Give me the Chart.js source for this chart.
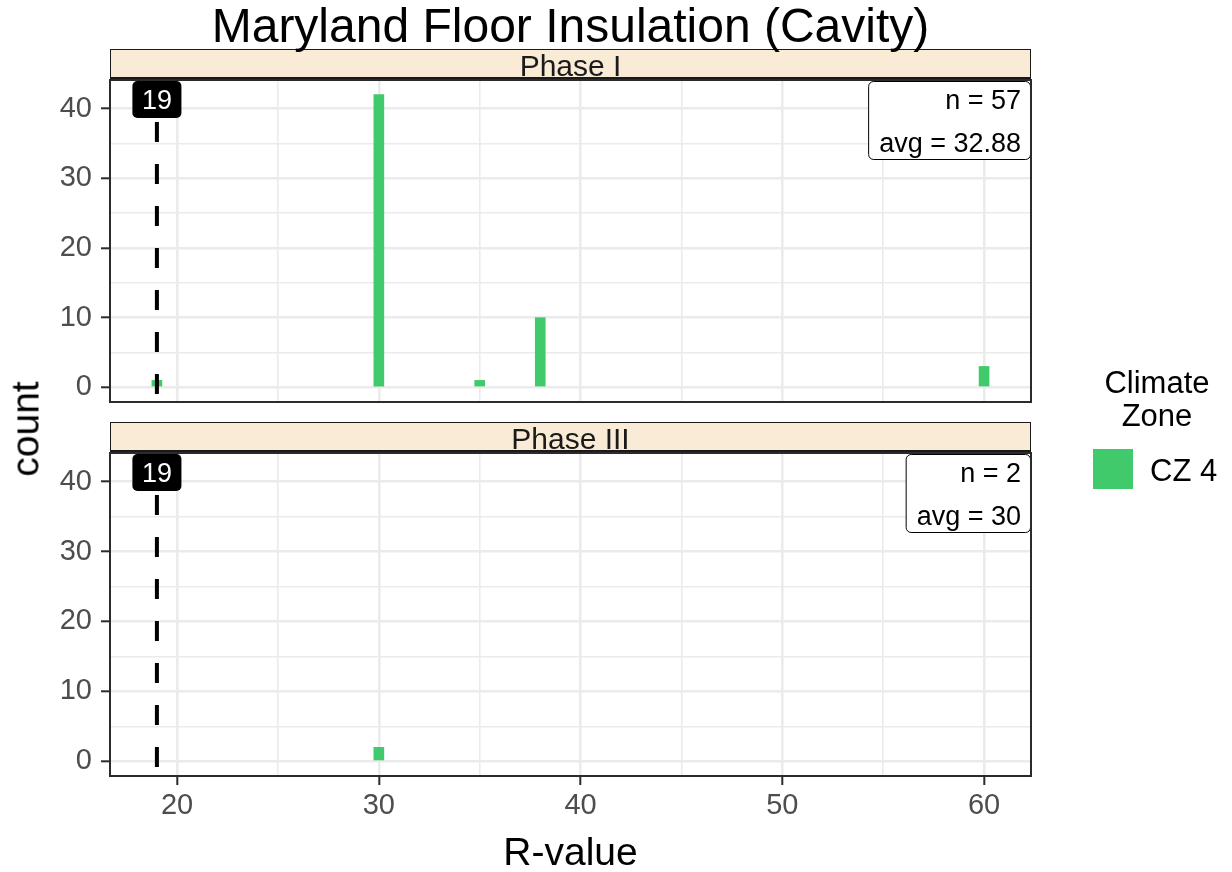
<!DOCTYPE html>
<html>
<head>
<meta charset="utf-8">
<script src="https://cdn.jsdelivr.net/npm/chart.js@4.4.1/dist/chart.umd.min.js"></script>
<style>
  html, body { margin: 0; padding: 0; background: #ffffff; }
  #wrap { position: relative; width: 1232px; height: 872px; overflow: hidden; background: #fff;
          font-family: "Liberation Sans", Arial, Helvetica, sans-serif; }
  canvas { position: absolute; left: 0; }
  .t { position: absolute; white-space: nowrap; line-height: 1; z-index: 3; }
  .strip { position: absolute; box-sizing: border-box; background: #FAEBD7; border: 1.6px solid #1a1a1a; border-bottom-width: 2px; z-index: 2; }
</style>
</head>
<body>
<div id="wrap">
  <canvas id="c1" width="1232" height="400" style="top:50px;width:1232px;height:400px"></canvas>
  <canvas id="c2" width="1232" height="449" style="top:423px;width:1232px;height:449px"></canvas>
</div>
<script>
// ---------------- data ----------------
const chartTitle = 'Maryland Floor Insulation (Cavity)';
const panelNames = ['Phase I', 'Phase III'];
const phase1R = [19, 30, 35, 38, 60];
const phase1Count = [1, 42, 1, 10, 3];
const phase3R = [30];
const phase3Count = [2];
const codeRValue = 19;               // dashed reference line
const xTickValues = [20, 25, 30, 35, 40, 45, 50, 55, 60];
const xTickLabels = ['20', '', '30', '', '40', '', '50', '', '60'];
const yTickValues = [0, 5, 10, 15, 20, 25, 30, 35, 40];
const yTickLabels = ['0', '', '10', '', '20', '', '30', '', '40'];
const xLimits = [16.675, 62.325];
const yLimits = [-2.1, 44.1];
const legendTitle = ['Climate', 'Zone'];
const legendLabel = 'CZ 4';
const xTitle = 'R-value';
const yTitle = 'count';

// ---------------- styling ----------------
const FONT = '"Liberation Sans", Arial, Helvetica, sans-serif';
const BAR = '#40CA6B';
const GRID = '#EBEBEB';
const DARK = '#2b2b2b';

const wrap = document.getElementById('wrap');
function txt(s, o) {
  const d = document.createElement('div');
  d.className = 't';
  d.textContent = s;
  d.style.fontSize = o.size + 'px';
  d.style.color = o.color || '#000';
  if (o.rotate) {
    d.style.left = o.x + 'px';
    d.style.top = o.y + 'px';
    d.style.transform = 'translate(-50%,-50%) rotate(-90deg)';
  } else {
    d.style.top = (o.baseline - 0.8465 * o.size) + 'px';
    d.style.left = o.x + 'px';
    if (o.align === 'center') d.style.transform = 'translateX(-50%)';
  }
  wrap.appendChild(d);
  return d;
}

function fmt(v) { return String(Number(v.toFixed(2))); }

function decorPlugin(rVals, counts) {
  const n = counts.reduce((a, b) => a + b, 0);
  const avg = rVals.reduce((a, r, i) => a + r * counts[i], 0) / n;
  const lines = ['n = ' + n, 'avg = ' + fmt(avg)];
  return {
    id: 'decor',
    afterDatasetsDraw(chart) {
      const ctx = chart.ctx, a = chart.chartArea, xs = chart.scales.x;
      const px = xs.getPixelForValue(codeRValue);
      ctx.save();
      // dashed reference line
      ctx.beginPath();
      ctx.rect(a.left, a.top, a.right - a.left, a.bottom - a.top);
      ctx.clip();
      ctx.strokeStyle = '#000';
      ctx.lineWidth = 4;
      ctx.setLineDash([20, 22]);
      ctx.beginPath();
      ctx.moveTo(px, a.top);
      ctx.lineTo(px, a.bottom);
      ctx.stroke();
      ctx.setLineDash([]);
      ctx.font = '27px ' + FONT;
      // "19" label
      const lw = ctx.measureText(String(codeRValue)).width + 19;
      ctx.fillStyle = '#000';
      ctx.beginPath();
      ctx.roundRect(px - lw / 2, a.top + 1, lw, 37, 5);
      ctx.fill();
      ctx.fillStyle = '#fff';
      ctx.textAlign = 'center';
      ctx.textBaseline = 'alphabetic';
      ctx.fillText(String(codeRValue), px, a.top + 29);
      // n / avg box
      const tw = Math.max(...lines.map(l => ctx.measureText(l).width));
      const bw = tw + 20, bh = 78;
      const bx = a.right - 1 - bw, by = a.top + 1;
      ctx.fillStyle = '#fff';
      ctx.strokeStyle = '#000';
      ctx.lineWidth = 1;
      ctx.beginPath();
      ctx.roundRect(bx + 0.5, by + 0.5, bw, bh, 5);
      ctx.fill();
      ctx.stroke();
      ctx.fillStyle = '#000';
      ctx.textAlign = 'right';
      ctx.fillText(lines[0], a.right - 10, by + 28);
      ctx.fillText(lines[1], a.right - 10, by + 71);
      ctx.restore();
      // panel border
      ctx.save();
      ctx.strokeStyle = DARK;
      ctx.lineWidth = 2;
      ctx.strokeRect(a.left, a.top, a.right - a.left, a.bottom - a.top);
      ctx.restore();
    }
  };
}

function makeChart(id, rVals, counts, showX, xAxisHeight, padBottom) {
  const data = rVals.map((r, i) => ({ x: r, y: counts[i] }));
  return new Chart(document.getElementById(id), {
    type: 'bar',
    data: { datasets: [{ data, backgroundColor: BAR, borderWidth: 0, barThickness: 10 }] },
    plugins: [decorPlugin(rVals, counts)],
    options: {
      responsive: false,
      animation: false,
      devicePixelRatio: 1,
      layout: { padding: { top: 30, left: 0, right: 201, bottom: padBottom } },
      plugins: { legend: { display: false }, tooltip: { enabled: false } },
      scales: {
        x: {
          type: 'linear',
          offset: false,
          min: xLimits[0], max: xLimits[1],
          afterBuildTicks(s) { s.ticks = xTickValues.map(v => ({ value: v })); },
          afterFit(s) { s.height = xAxisHeight; },
          border: { display: false },
          grid: {
            offset: false,
            color: GRID,
            lineWidth: c => (c.tick && c.tick.value % 10 === 0) ? 2.6 : 1.6,
            drawTicks: showX,
            tickLength: 9,
            tickWidth: 2,
            tickColor: c => (c.tick && c.tick.value % 10 === 0) ? DARK : 'rgba(0,0,0,0)'
          },
          ticks: {
            display: showX,
            autoSkip: false,
            maxRotation: 0,
            padding: 4,
            color: '#4D4D4D',
            font: { family: FONT, size: 29 },
            callback: (v) => xTickLabels[xTickValues.indexOf(v)] ?? ''
          }
        },
        y: {
          type: 'linear',
          min: yLimits[0], max: yLimits[1],
          afterBuildTicks(s) { s.ticks = yTickValues.map(v => ({ value: v })); },
          afterFit(s) { s.width = 110; },
          border: { display: false },
          grid: {
            color: GRID,
            lineWidth: c => (c.tick && c.tick.value % 10 === 0) ? 2.6 : 1.6,
            drawTicks: true,
            tickLength: 9,
            tickWidth: 2,
            tickColor: c => (c.tick && c.tick.value % 10 === 0) ? DARK : 'rgba(0,0,0,0)'
          },
          ticks: {
            autoSkip: false,
            padding: 9,
            color: '#4D4D4D',
            font: { family: FONT, size: 29 },
            callback: (v) => yTickLabels[yTickValues.indexOf(v)] ?? ''
          }
        }
      }
    }
  });
}

makeChart('c1', phase1R, phase1Count, false, 0, 48);
makeChart('c2', phase3R, phase3Count, true, 96, 0);

// strips
function strip(top, label) {
  const d = document.createElement('div');
  d.className = 'strip';
  d.style.left = '110px';
  d.style.top = top + 'px';
  d.style.width = '921px';
  d.style.height = '30px';
  wrap.appendChild(d);
  txt(label, { x: 570.5, baseline: top + 27, size: 30, align: 'center', color: '#1A1A1A' });
}
strip(49, panelNames[0]);
strip(422, panelNames[1]);

// titles
txt(chartTitle, { x: 570.5, baseline: 43, size: 48, align: 'center' });
txt(xTitle, { x: 570.5, baseline: 865, size: 39, align: 'center' });
txt(yTitle, { x: 24.5, y: 429, size: 39, rotate: true });

// legend
txt(legendTitle[0], { x: 1157, baseline: 393, size: 31, align: 'center' });
txt(legendTitle[1], { x: 1157, baseline: 426, size: 31, align: 'center' });
const key = document.createElement('div');
key.style.cssText = 'position:absolute;left:1093px;top:449px;width:40px;height:40px;background:' + BAR + ';';
wrap.appendChild(key);
txt(legendLabel, { x: 1150, baseline: 481, size: 31 });
</script>
</body>
</html>
